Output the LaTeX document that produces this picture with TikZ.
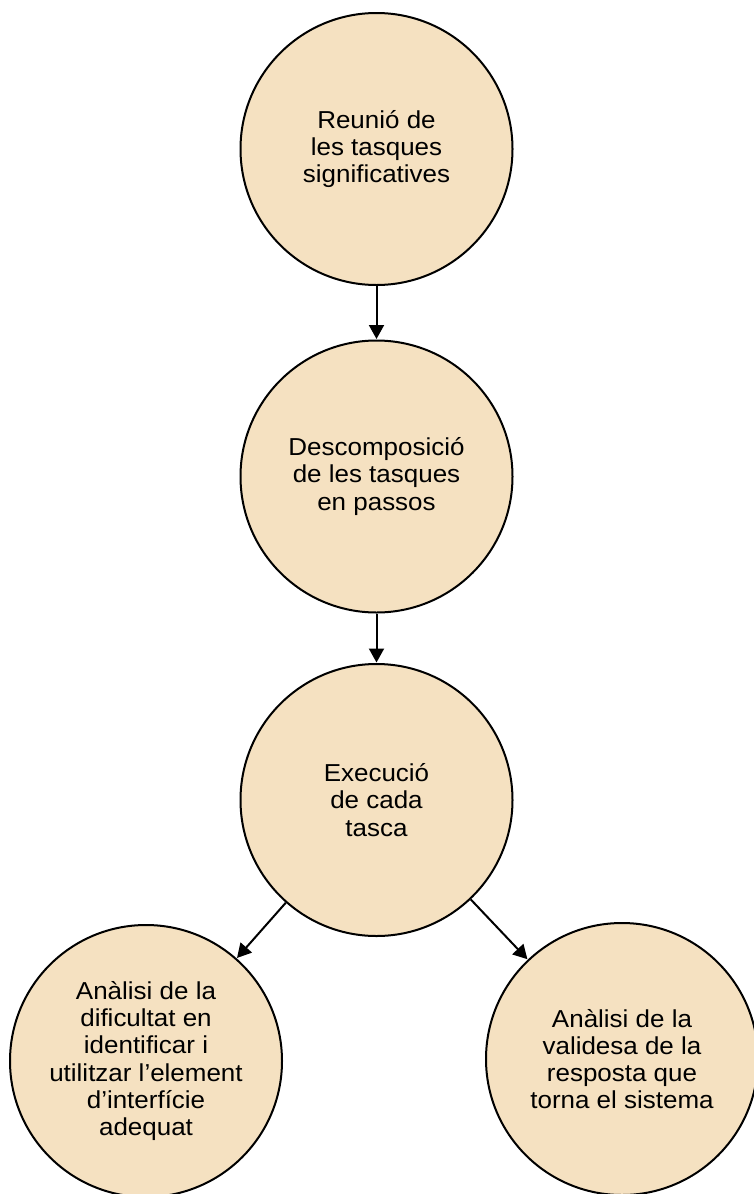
\documentclass[tikz,border=0pt]{standalone}
\usepackage{fontspec}
\setmainfont{Liberation Sans}[FakeStretch=1.06]
\usetikzlibrary{arrows.meta}
\definecolor{stagefill}{RGB}{245,225,193}
\begin{document}
\begin{tikzpicture}[x=1pt,y=-1pt,
  stage/.style={circle,draw=black,line width=2pt,fill=stagefill,
    minimum size=272pt,inner sep=0pt,align=center,
    font={\fontsize{24.5pt}{27.2pt}\selectfont}},
  flow/.style={line width=2pt,-{Triangle[length=14pt,width=15pt]},shorten >=0.5pt}]
  \useasboundingbox (0,0) rectangle (754,1194);
  \fill[white] (0,0) rectangle (754,1194);

  \node[stage] (gather)  at (376.5,149)  {Reunió de\\les tasques\\significatives};
  \node[stage] (split)   at (376.5,476.5){Descomposició\\de les tasques\\en passos};
  \node[stage] (run)     at (376.5,800)  {Execució\\de cada\\tasca};
  \node[stage] (hard)    at (146,1061)   {Anàlisi de la\\dificultat en\\identificar i\\utilitzar l’element\\d’interfície\\adequat};
  \node[stage] (valid)   at (622,1059)   {Anàlisi de la\\validesa de la\\resposta que\\torna el sistema};

  \draw[flow] (gather) -- (split);
  \draw[flow] (split) -- (run);
  \draw[flow] (run) -- (hard);
  \draw[flow] (run) -- (valid);
\end{tikzpicture}
\end{document}
